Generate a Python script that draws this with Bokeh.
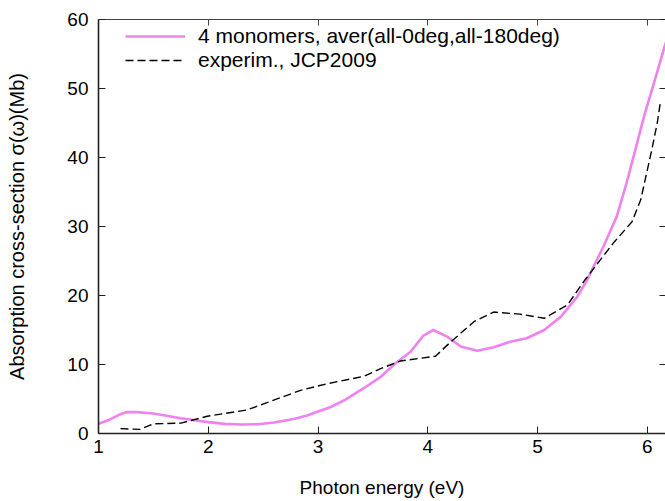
from bokeh.plotting import figure
from bokeh.models import Range1d, LinearAxis, Legend, LegendItem, FixedTicker
from bokeh.embed import file_html
from bokeh.resources import INLINE

# pink: 4 monomers, aver(all-0deg,all-180deg)
calc_x = [1.0, 1.1, 1.2, 1.26, 1.35, 1.5, 1.75, 2.0, 2.15, 2.3, 2.45, 2.6, 2.78,
          2.9, 3.0, 3.11, 3.25, 3.42, 3.57, 3.7, 3.84, 3.96, 4.05, 4.18, 4.30,
          4.45, 4.60, 4.75, 4.90, 5.06, 5.21, 5.36, 5.45, 5.51, 5.60, 5.72, 5.81,
          5.89, 5.97, 6.06, 6.15, 6.2]
calc_y = [1.4, 2.0, 2.8, 3.1, 3.1, 2.9, 2.2, 1.65, 1.4, 1.3, 1.35, 1.6, 2.1,
          2.6, 3.2, 3.8, 4.9, 6.6, 8.2, 10.1, 11.8, 14.2, 15.0, 14.0, 12.6,
          12.0, 12.5, 13.3, 13.8, 15.0, 16.9, 19.8, 22.2, 24.2, 27.1, 31.4, 36.3,
          41.1, 46.0, 50.8, 55.7, 58.3]

# dashed: experim., JCP2009
exp_x = [1.2, 1.38, 1.5, 1.75, 1.99, 2.35, 2.54, 2.84, 3.08, 3.42, 3.57, 3.75,
         4.07, 4.21, 4.42, 4.60, 4.84, 5.06, 5.27, 5.42, 5.51, 5.69, 5.86, 5.94,
         5.98, 6.04, 6.09, 6.12]
exp_y = [0.7, 0.6, 1.4, 1.5, 2.5, 3.4, 4.5, 6.25, 7.2, 8.3, 9.4, 10.5,
         11.2, 13.3, 16.2, 17.6, 17.3, 16.7, 18.6, 22.0, 23.9, 27.6, 30.7, 33.9,
         36.8, 41.1, 45.0, 48.2]

x_ticks = [1, 2, 3, 4, 5, 6]
y_ticks = [0, 10, 20, 30, 40, 50, 60]

FONT = "Liberation Sans"

p = figure(width=665, height=501, output_backend="svg", toolbar_location=None,
           x_range=Range1d(1, 6.165), y_range=Range1d(0, 60),
           min_border_left=98, min_border_right=0, min_border_top=19,
           min_border_bottom=68)
p.outline_line_color = None
p.grid.visible = False
p.background_fill_color = "white"
p.border_fill_color = "white"

r1 = p.line(calc_x, calc_y, line_color="violet", line_width=2.6)
r2 = p.line(exp_x, exp_y, line_color="black", line_width=1.4, line_dash="8 4")

for ax in (p.xaxis[0], p.yaxis[0]):
    ax.axis_line_color = "#222222"
    ax.axis_line_width = 1.6
    ax.major_tick_in = 7
    ax.major_tick_out = 0
    ax.major_tick_line_color = "#222222"
    ax.minor_tick_line_color = None
    ax.major_label_text_font = FONT
    ax.major_label_text_font_size = "19px"
    ax.major_label_text_color = "black"
    ax.axis_label_text_font = FONT
    ax.axis_label_text_font_style = "normal"
    ax.axis_label_text_color = "black"

p.xaxis[0].ticker = FixedTicker(ticks=x_ticks)
p.yaxis[0].ticker = FixedTicker(ticks=y_ticks)
p.xaxis[0].axis_label = "Photon energy (eV)"
p.yaxis[0].axis_label = "Absorption cross-section σ(ω)(Mb)"
p.xaxis[0].axis_label_text_font_size = "19px"
p.yaxis[0].axis_label_text_font_size = "20px"
p.xaxis[0].major_label_standoff = 6
p.xaxis[0].axis_label_standoff = 21
p.yaxis[0].major_label_standoff = 10
p.yaxis[0].axis_label_standoff = 36

top = LinearAxis(ticker=FixedTicker(ticks=x_ticks))
top.axis_line_color = "#444444"
top.axis_line_width = 1.2
top.major_tick_in = 6
top.major_tick_out = 0
top.major_tick_line_color = "#444444"
top.minor_tick_line_color = None
top.major_label_text_font_size = "0px"
top.major_label_standoff = 0
p.add_layout(top, "above")

right = LinearAxis(ticker=FixedTicker(ticks=y_ticks))
right.axis_line_color = None
right.major_tick_in = 6
right.major_tick_out = 0
right.major_tick_line_color = "#222222"
right.minor_tick_line_color = None
right.major_label_text_font_size = "0px"
right.major_label_standoff = 0
p.add_layout(right, "right")

legend = Legend(items=[
    LegendItem(label="4 monomers, aver(all-0deg,all-180deg)", renderers=[r1]),
    LegendItem(label="experim., JCP2009", renderers=[r2]),
], location=(27, 361))
legend.border_line_color = None
legend.background_fill_alpha = 0
legend.padding = 0
legend.margin = 0
legend.spacing = 0
legend.glyph_width = 60
legend.glyph_height = 22
legend.label_height = 22
legend.label_standoff = 13
legend.label_text_font = FONT
legend.label_text_font_size = "21px"
legend.label_text_color = "black"
p.add_layout(legend, "center")

open("out.html", "w").write(file_html(p, INLINE))
